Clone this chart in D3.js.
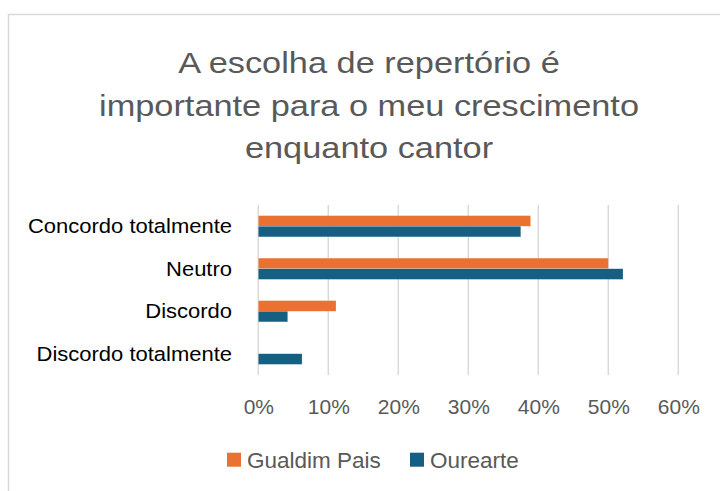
<!DOCTYPE html>
<html>
<head>
<meta charset="utf-8">
<script src="https://cdn.jsdelivr.net/npm/d3@7"></script>
<style>
  html, body { margin: 0; padding: 0; background: #fff; }
  svg { display: block; }
</style>
</head>
<body>
<svg id="chart" width="720" height="491"></svg>
<script>
const titleLines = ["A escolha de repertório é", "importante para o meu crescimento", "enquanto cantor"];
const categories = ["Concordo totalmente", "Neutro", "Discordo", "Discordo totalmente"];
const seriesNames = ["Gualdim Pais", "Ourearte"];
const gualdimPais = [0.389, 0.500, 0.111, 0];
const ourearte = [0.375, 0.521, 0.042, 0.0625];
const tickValues = [0, 0.1, 0.2, 0.3, 0.4, 0.5, 0.6];
const colors = ["#E97132", "#156082"];

const svg = d3.select("#chart");
const W = 720, H = 491;

// chart frame
svg.append("rect")
  .attr("x", 8.5).attr("y", 14.5)
  .attr("width", W + 20).attr("height", H + 20)
  .attr("fill", "#fff").attr("stroke", "#d9d9d9").attr("stroke-width", 1.5);

const FONT = "'Liberation Sans', Arial, sans-serif";

// title (slightly condensed to mimic the narrow original face)
const titleBaselines = [72.7, 115.5, 158];
const tTexts = svg.append("g").selectAll("text").data(titleLines).join("text")
  .attr("x", 369).attr("y", (d, i) => titleBaselines[i])
  .attr("text-anchor", "middle")
  .attr("font-family", FONT)
  .attr("font-size", 30)
  .attr("fill", "#595959")
  .text(d => d);
const tScale = 540 / tTexts.nodes()[1].getComputedTextLength();
tTexts.each(function() {
  const w = this.getComputedTextLength();
  d3.select(this).attr("textLength", w * tScale).attr("lengthAdjust", "spacingAndGlyphs");
});

// scales
const x = d3.scaleLinear().domain([0, 0.6]).range([258.3, 678.3]);
const y = d3.scaleBand().domain(categories).range([205, 375]).padding(0);
const ySub = d3.scaleBand().domain(seriesNames).range([0, y.bandwidth()]).paddingInner(0).paddingOuter(1);

// gridlines
svg.append("g").selectAll("line").data(tickValues).join("line")
  .attr("x1", d => x(d)).attr("x2", d => x(d))
  .attr("y1", 205).attr("y2", 375)
  .attr("stroke", "#d9d9d9").attr("stroke-width", 1.5);

// bars
const data = categories.map((c, i) => ({cat: c, vals: [gualdimPais[i], ourearte[i]]}));
const groups = svg.append("g").selectAll("g").data(data).join("g")
  .attr("transform", d => `translate(0,${y(d.cat)})`);
groups.selectAll("rect").data(d => d.vals.map((v, j) => ({v, s: seriesNames[j], j})))
  .join("rect")
  .attr("x", x(0))
  .attr("y", d => ySub(d.s))
  .attr("width", d => x(d.v) - x(0))
  .attr("height", ySub.bandwidth())
  .attr("fill", d => colors[d.j])
  .attr("stroke", "#fff").attr("stroke-opacity", 0.4).attr("stroke-width", 0.5);

// x axis labels
const xAxis = d3.axisBottom(x).tickValues(tickValues).tickFormat(d3.format(".0%")).tickSize(0).tickPadding(0);
const xg = svg.append("g").attr("transform", "translate(0,399)").call(xAxis);
xg.select(".domain").remove();
xg.selectAll("text")
  .attr("font-family", FONT).attr("font-size", 21).attr("fill", "#595959")
  .attr("dy", "0.71em");

// y axis labels
const yAxis = d3.axisLeft(y).tickSize(0).tickPadding(0);
const yg = svg.append("g").attr("transform", "translate(232,0)").call(yAxis);
yg.select(".domain").remove();
const yTexts = yg.selectAll("text")
  .attr("font-family", FONT).attr("font-size", 20.5).attr("fill", "#000")
  .attr("dy", "0.35em");
const yScaleK = 204 / yTexts.nodes()[0].getComputedTextLength();
yTexts.each(function() {
  const w = this.getComputedTextLength();
  d3.select(this).attr("textLength", w * yScaleK).attr("lengthAdjust", "spacingAndGlyphs");
});

// legend
const legendItems = [
  {name: seriesNames[0], color: colors[0], x: 227},
  {name: seriesNames[1], color: colors[1], x: 410}
];
const lg = svg.append("g").selectAll("g").data(legendItems).join("g")
  .attr("transform", d => `translate(${d.x},0)`);
lg.append("rect").attr("x", 0).attr("y", 452.7).attr("width", 14).attr("height", 14)
  .attr("fill", d => d.color);
lg.append("text").attr("x", 20).attr("y", 459.7).attr("dy", "0.35em")
  .attr("font-family", FONT).attr("font-size", 22.5).attr("fill", "#595959")
  .text(d => d.name);
</script>
</body>
</html>
